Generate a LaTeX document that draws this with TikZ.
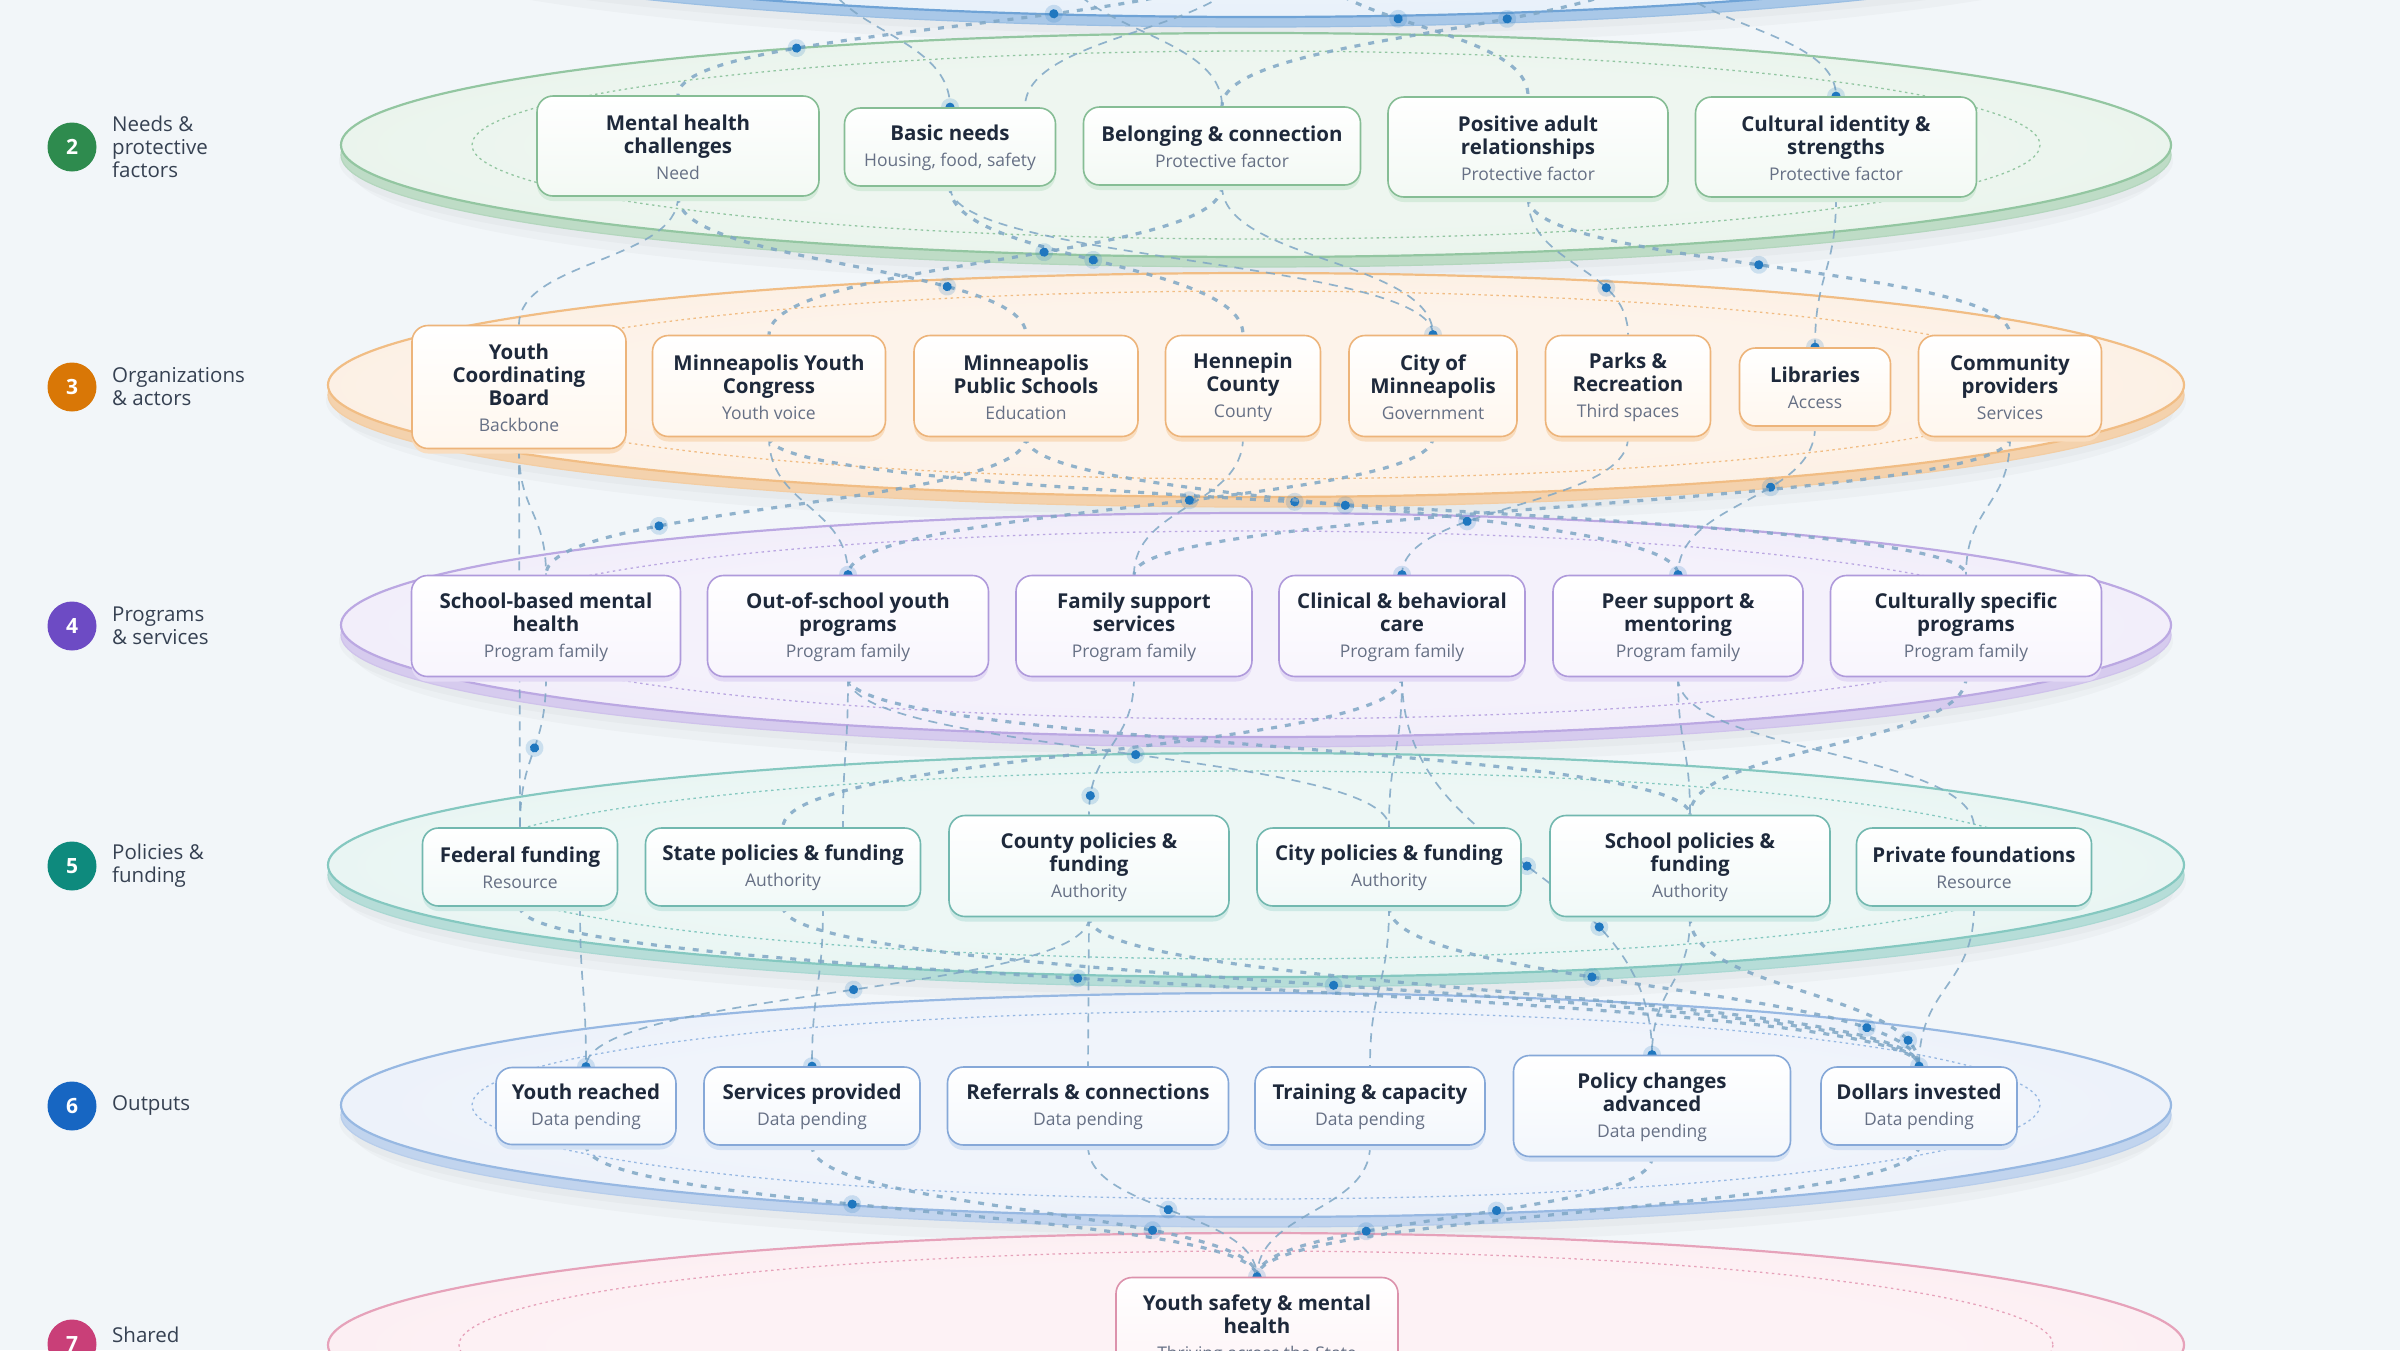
\documentclass[tikz,border=0pt]{standalone}
\usepackage{fontspec}
\setmainfont{Open Sans}
\usetikzlibrary{calc,decorations.markings,shadows}

\definecolor{bg}{HTML}{F2F6F9}
\definecolor{ink}{HTML}{1E293B}
\definecolor{subc}{HTML}{667085}
\definecolor{labc}{HTML}{364152}
\definecolor{edgec}{HTML}{7FA7C5}
\definecolor{dotc}{HTML}{1F77BF}
% layer colours: s stroke, d band, o outer face, i inner face, n node border, t node tint, b node base
\definecolor{s1}{HTML}{6FA3D6}\definecolor{d1}{HTML}{A9C8E8}\definecolor{o1}{HTML}{D8E7F6}\definecolor{i1}{HTML}{ECF3FB}
\definecolor{s2}{HTML}{93C6A1}\definecolor{d2}{HTML}{BEDCC6}\definecolor{o2}{HTML}{DDEEE2}\definecolor{i2}{HTML}{EEF6F0}
\definecolor{n2}{HTML}{86BD95}\definecolor{t2}{HTML}{F3F9F4}\definecolor{b2}{HTML}{D5EBDB}
\definecolor{s3}{HTML}{F1BD84}\definecolor{d3}{HTML}{F4D2AD}\definecolor{o3}{HTML}{FAE7D3}\definecolor{i3}{HTML}{FDF3EA}
\definecolor{n3}{HTML}{EDB47A}\definecolor{t3}{HTML}{FFF7EE}\definecolor{b3}{HTML}{F9DDBF}
\definecolor{s4}{HTML}{BBA8E2}\definecolor{d4}{HTML}{D6CBEE}\definecolor{o4}{HTML}{EAE3F7}\definecolor{i4}{HTML}{F4F1FB}
\definecolor{n4}{HTML}{AF9ADB}\definecolor{t4}{HTML}{F8F5FD}\definecolor{b4}{HTML}{E3DAF5}
\definecolor{s5}{HTML}{85C8C0}\definecolor{d5}{HTML}{B6DDD8}\definecolor{o5}{HTML}{DBEFEC}\definecolor{i5}{HTML}{EDF7F5}
\definecolor{n5}{HTML}{72B8AF}\definecolor{t5}{HTML}{F1F9F8}\definecolor{b5}{HTML}{CDE9E5}
\definecolor{s6}{HTML}{97B8E2}\definecolor{d6}{HTML}{C1D4EE}\definecolor{o6}{HTML}{E1EAF7}\definecolor{i6}{HTML}{F0F4FB}
\definecolor{n6}{HTML}{86A8D8}\definecolor{t6}{HTML}{F3F7FC}\definecolor{b6}{HTML}{D3E1F4}
\definecolor{s7}{HTML}{E6A2BA}\definecolor{d7}{HTML}{F1C6D4}\definecolor{o7}{HTML}{FAE4EB}\definecolor{i7}{HTML}{FDF2F5}
\definecolor{n7}{HTML}{DC92AC}\definecolor{t7}{HTML}{FDF3F6}\definecolor{b7}{HTML}{F5D6E0}
\definecolor{c2}{HTML}{2E8B4E}\definecolor{c3}{HTML}{D97706}\definecolor{c4}{HTML}{6D4BC4}
\definecolor{c5}{HTML}{0E8A7D}\definecolor{c6}{HTML}{1766C2}\definecolor{c7}{HTML}{C93F78}

\colorlet{lyrin}{white}\colorlet{lyrout}{white}
\pgfdeclareradialshading[lyrin,lyrout]{lyrsh}{\pgfpointorigin}{color(0bp)=(lyrin); color(18bp)=(lyrin); color(50bp)=(lyrout)}

\pgfdeclarelayer{bgl}\pgfdeclarelayer{edgel}
\pgfsetlayers{bgl,edgel,main}

\newcommand\titlef{\fontsize{20.5}{23}\selectfont\bfseries}
\newcommand\subf{\fontsize{17.5}{20}\selectfont\mdseries}
\newcommand\nd[2]{\rule{0pt}{18pt}#1\\[3pt]{\subf\color{subc}#2}}

\newcommand\layer[6]{%
 \fill[black,opacity=0.022] (1256,#1+24) ellipse [x radius=#2-10, y radius=116];
 \fill[black,opacity=0.022] (1256,#1+16) ellipse [x radius=#2+2, y radius=114];
 \fill[#4] (1256,#1+10) ellipse [x radius=#2, y radius=112];
 \draw[#4!75!#3, line width=1.2pt] (1256,#1+10) ellipse [x radius=#2, y radius=112];
 \colorlet{lyrin}{#6}\colorlet{lyrout}{#5}%
 \shade[shading=lyrsh] (1256,#1) ellipse [x radius=#2, y radius=112];
 \draw[#3, line width=2.2pt] (1256,#1) ellipse [x radius=#2, y radius=112];
 \draw[#3, line width=1.3pt, dash pattern=on 2.5pt off 3.5pt] (1256,#1) ellipse [x radius=#2-131, y radius=94];
}

\tikzset{
 box/.style={rounded corners=16pt, line width=1.6pt, align=center, text=ink, font=\titlef, inner sep=2pt},
 bx/.style n args={3}{box, draw=#1, top color=white, bottom color=#2,
   drop shadow={shadow xshift=0pt, shadow yshift=-5pt, fill=#3, opacity=1}},
 lab/.style={anchor=west, align=left, text=labc, font=\fontsize{20.5}{23}\selectfont, inner sep=0pt},
 badge/.style={circle, minimum size=49pt, inner sep=0pt, text=white, font=\fontsize{21}{21}\selectfont\bfseries},
 edge/.style={draw=edgec, draw opacity=0.85},
 ethin/.style={line width=1.7pt, dash pattern=on 9pt off 7pt},
 ethick/.style={line width=3.2pt, dash pattern=on 6pt off 8pt},
 pdots/.style={postaction={decorate,decoration={markings,mark=at position #1 with
   {\fill[dotc,opacity=0.18] (0,0) circle (9pt); \fill[dotc] (0,0) circle (4.6pt);}}}},
}

\newcommand\bnode[7]{\node[bx={n#1}{t#1}{b#1}, minimum width=#5pt, minimum height=#6pt] (#2) at (#3,#4) {#7};}
\newcommand\edge[3][]{\draw[edge,#1] (#2) .. controls ($(#2)!0.5!(#2|-#3)$) and ($(#3)!0.5!(#3|-#2)$) .. (#3);}
\newcommand\edot[1]{\fill[dotc,opacity=0.18] (#1) circle (9pt); \fill[dotc] (#1) circle (4.6pt);}

\begin{document}
\begin{tikzpicture}[x=1pt,y=-1pt]
\useasboundingbox (0,0) rectangle (2400,1350);

\begin{pgfonlayer}{bgl}
 \fill[bg] (0,0) rectangle (2400,1350);
 \layer{-95}{928}{s1}{d1}{o1}{i1}
 \layer{145}{915}{s2}{d2}{o2}{i2}
 \layer{385}{928}{s3}{d3}{o3}{i3}
 \layer{625}{915}{s4}{d4}{o4}{i4}
 \layer{865}{928}{s5}{d5}{o5}{i5}
 \layer{1105}{915}{s6}{d6}{o6}{i6}
 \layer{1345}{928}{s7}{d7}{o7}{i7}
\end{pgfonlayer}

% ---- layer 2
\bnode{2}{mh}{678}{146}{282}{100}{\nd{Mental health\\challenges}{Need}}
\bnode{2}{bn}{950}{147}{211}{78}{\nd{Basic needs}{Housing, food, safety}}
\bnode{2}{bel}{1222}{146}{277}{78}{\nd{Belonging \& connection}{Protective factor}}
\bnode{2}{par}{1528}{147}{280}{100}{\nd{Positive adult\\relationships}{Protective factor}}
\bnode{2}{cul}{1836}{147}{281}{100}{\nd{Cultural identity \&\\strengths}{Protective factor}}
% ---- layer 3
\bnode{3}{ycb}{519}{387}{214}{123}{\nd{Youth\\Coordinating\\Board}{Backbone}}
\bnode{3}{myc}{769}{386}{233}{101}{\nd{Minneapolis Youth\\Congress}{Youth voice}}
\bnode{3}{mps}{1026}{386}{224}{101}{\nd{Minneapolis\\Public Schools}{Education}}
\bnode{3}{hen}{1243}{386}{155}{101}{\nd{Hennepin\\County}{County}}
\bnode{3}{cit}{1433}{386}{168}{101}{\nd{City of\\Minneapolis}{Government}}
\bnode{3}{prk}{1628}{386}{165}{101}{\nd{Parks \&\\Recreation}{Third spaces}}
\bnode{3}{lib}{1815}{387}{151}{78}{\nd{Libraries}{Access}}
\bnode{3}{com}{2010}{386}{183}{101}{\nd{Community\\providers}{Services}}
% ---- layer 4
\bnode{4}{sbmh}{546}{626}{269}{101}{\nd{School-based mental\\health}{Program family}}
\bnode{4}{oos}{848}{626}{281}{101}{\nd{Out-of-school youth\\programs}{Program family}}
\bnode{4}{fss}{1134}{626}{236}{101}{\nd{Family support\\services}{Program family}}
\bnode{4}{cbc}{1402}{626}{246}{101}{\nd{Clinical \& behavioral\\care}{Program family}}
\bnode{4}{psm}{1678}{626}{250}{101}{\nd{Peer support \&\\mentoring}{Program family}}
\bnode{4}{csp}{1966}{626}{271}{101}{\nd{Culturally specific\\programs}{Program family}}
% ---- layer 5
\bnode{5}{fed}{520}{867}{195}{78}{\nd{Federal funding}{Resource}}
\bnode{5}{sta}{783}{867}{275}{78}{\nd{State policies \& funding}{Authority}}
\bnode{5}{cty}{1089}{866}{280}{101}{\nd{County policies \&\\funding}{Authority}}
\bnode{5}{cit5}{1389}{867}{264}{78}{\nd{City policies \& funding}{Authority}}
\bnode{5}{sch}{1690}{866}{280}{101}{\nd{School policies \&\\funding}{Authority}}
\bnode{5}{pri}{1974}{867}{235}{78}{\nd{Private foundations}{Resource}}
% ---- layer 6
\bnode{6}{yr}{586}{1106}{180}{77}{\nd{Youth reached}{Data pending}}
\bnode{6}{sp}{812}{1106}{216}{78}{\nd{Services provided}{Data pending}}
\bnode{6}{ref}{1088}{1106}{281}{78}{\nd{Referrals \& connections}{Data pending}}
\bnode{6}{tc}{1370}{1106}{230}{78}{\nd{Training \& capacity}{Data pending}}
\bnode{6}{pol}{1652}{1106}{277}{101}{\nd{Policy changes\\advanced}{Data pending}}
\bnode{6}{dol}{1919}{1106}{196}{78}{\nd{Dollars invested}{Data pending}}
% ---- layer 7
\bnode{7}{goal}{1257}{1328}{282}{101}{\nd{Youth safety \& mental\\health}{Thriving across the State}}

% ---- left labels
\node[badge,fill=c2] (k2) at (72,147) {2};
\node[lab] (l2) at (112,147) {Needs \&\\protective\\factors};
\node[badge,fill=c3] (k3) at (72,387) {3};
\node[lab] (l3) at (112,387) {Organizations\\\& actors};
\node[badge,fill=c4] (k4) at (72,626) {4};
\node[lab] (l4) at (112,626) {Programs\\\& services};
\node[badge,fill=c5] (k5) at (72,866) {5};
\node[lab] (l5) at (112,866) {Policies \&\\funding};
\node[badge,fill=c6] (k6) at (72,1106) {6};
\node[lab] (l6) at (112,1106) {Outputs};
\node[badge,fill=c7] (k7) at (72,1344) {7};
\node[lab] (l7) at (112,1335) {Shared};

% ---- helper coordinates
\coordinate (ta) at (820,-45);
\coordinate (tb) at (1250,-45);
\coordinate (tc0) at (1060,-45);
\coordinate (td) at (1310,-45);
\coordinate (te) at (1660,-45);
\coordinate (bnR) at ([xshift=75pt]bn.north);
\coordinate (staT) at ([xshift=60pt]sta.north);
\coordinate (fedB) at ([xshift=60pt]fed.south);
\coordinate (staB) at ([xshift=40pt]sta.south);

\begin{pgfonlayer}{edgel}
 % L1 -> L2
 \edge[ethin]{ta}{bn.north}
 \edge[ethick,pdots=0.35,pdots=0.78]{tb}{mh.north}
 \edge[ethin]{tb}{bnR}
 \edge[ethin]{tc0}{bel.north}
 \edge[ethick,pdots=0.42]{td}{par.north}
 \edge[ethick,pdots=0.36]{te}{bel.north}
 \edge[ethin]{te}{cul.north}
 % L2 -> L3
 \edge[ethin]{mh.south}{ycb.north}
 \edge[ethick,pdots=0.75]{mh.south}{mps.north}
 \edge[ethick,pdots=0.49]{bn.south}{hen.north}
 \edge[ethin]{bn.south}{cit.north}
 \edge[ethick,pdots=0.4]{bel.south}{myc.north}
 \edge[ethin]{bel.south}{cit.north}
 \edge[ethin,pdots=0.7]{par.south}{prk.north}
 \edge[ethick,pdots=0.48]{par.south}{com.north}
 \edge[ethin]{cul.south}{lib.north}
 % L3 -> L4
 \edge[ethin]{ycb.south}{sbmh.north}
 \edge[ethin]{myc.south}{oos.north}
 \edge[ethick,pdots=0.44]{myc.south}{csp.north}
 \edge[ethick,pdots=0.75]{mps.south}{sbmh.north}
 \edge[ethick,pdots=0.49]{mps.south}{psm.north}
 \edge[ethin]{hen.south}{fss.north}
 \edge[ethick,pdots=0.42]{cit.south}{oos.north}
 \edge[ethin,pdots=0.68]{prk.south}{cbc.north}
 \edge[ethin,pdots=0.37]{lib.south}{psm.north}
 \edge[ethick]{com.south}{fss.north}
 \edge[ethin]{com.south}{csp.north}
 % L4 -> L5 (and skips)
 \edge[ethin,pdots=0.47]{sbmh.south}{fed.north}
 \edge[ethin]{ycb.south}{fed.north}
 \edge[ethin]{oos.south}{staT}
 \edge[ethick]{oos.south}{sch.north}
 \edge[ethin,pdots=0.53]{oos.south}{cit5.north}
 \edge[ethin,pdots=0.87]{fss.south}{cty.north}
 \edge[ethick]{cbc.south}{sta.north}
 \edge[ethin]{cbc.south}{cit5.north}
 \edge[ethin]{psm.south}{sch.north}
 \edge[ethin]{psm.south}{pri.north}
 \edge[ethick]{csp.south}{sch.north}
 \edge[ethin,pdots=0.5,pdots=0.7]{cbc.south}{pol.north}
 % L5 -> L6
 \edge[ethin]{fedB}{yr.north}
 \edge[ethin]{staB}{sp.north}
 \edge[ethick,pdots=0.4]{fed.south}{dol.north}
 \edge[ethick,pdots=0.485]{sta.south}{dol.north}
 \edge[ethin,pdots=0.47]{cty.south}{yr.north}
 \edge[ethin]{cty.south}{ref.north}
 \edge[ethick]{cty.south}{dol.north}
 \edge[ethick,pdots=0.39,pdots=0.88]{cit5.south}{dol.north}
 \edge[ethin]{cit5.south}{tc.north}
 \edge[ethin]{sch.south}{pol.north}
 \edge[ethick,pdots=0.9]{sch.south}{dol.north}
 \edge[ethin]{pri.south}{dol.north}
 % L6 -> L7
 \edge[ethick,pdots=0.4]{yr.south}{goal.north}
 \edge[ethick,pdots=0.75]{sp.south}{goal.north}
 \edge[ethin,pdots=0.48]{ref.south}{goal.north}
 \edge[ethin]{tc.south}{goal.north}
 \edge[ethick,pdots=0.4,pdots=0.71]{pol.south}{goal.north}
 \edge[ethick]{dol.south}{goal.north}
 % end dots
 \edot{bn.north}\edot{cul.north}\edot{cit.north}\edot{lib.north}
 \edot{oos.north}\edot{cbc.north}\edot{psm.north}
 \edot{yr.north}\edot{sp.north}\edot{pol.north}\edot{dol.north}\edot{goal.north}
\end{pgfonlayer}
\end{tikzpicture}
\end{document}
